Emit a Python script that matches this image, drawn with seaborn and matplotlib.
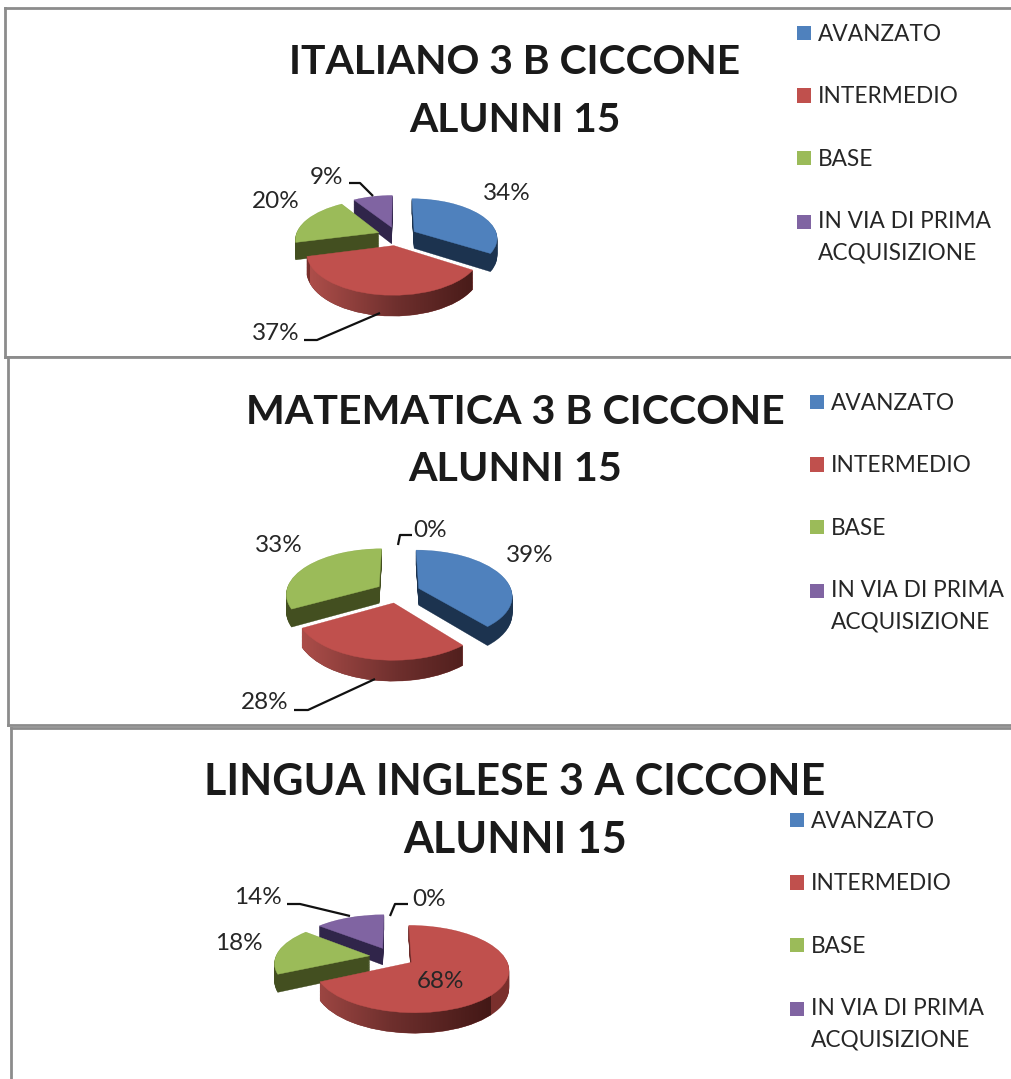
import numpy as np
import matplotlib
matplotlib.use("Agg")
import matplotlib.pyplot as plt
from matplotlib.patches import Patch
from matplotlib.path import Path
from matplotlib.transforms import Transform
from matplotlib.colors import LinearSegmentedColormap
import seaborn as sns

# ---- data ----
CATEGORIES = ["AVANZATO", "INTERMEDIO", "BASE", "IN VIA DI PRIMA\nACQUISIZIONE"]
TITLES = ["ITALIANO 3 B CICCONE\nALUNNI 15",
          "MATEMATICA 3 B CICCONE\nALUNNI 15",
          "LINGUA INGLESE 3 A CICCONE\nALUNNI 15"]
ITALIANO = [34, 37, 20, 9]
MATEMATICA = [39, 28, 33, 0]
INGLESE = [0, 68, 18, 14]

# ---- styles ----
sns.set_theme(style="white")
plt.rcParams["font.family"] = ["Lato", "DejaVu Sans"]
TOP = sns.color_palette(["#4f81bd", "#c0504d", "#9bbb59", "#8064a2"])
SIDE = ["#1c334f", "#7a2f2c", "#434f20", "#30254a"]
RED_SIDE = LinearSegmentedColormap.from_list("rs", ["#ad4e4a", "#6e2f2d", "#431816"])
TXT = "#262626"
GREY = "#8c8c8c"
W, H = 1011, 1079
EXPLODE = 0.24
RANK = [3, 4, 2, 1]  # painter's order of the slices

# ---- layout, in reference pixels ----
PANELS = [
    dict(values=ITALIANO, box=(5, 8, 1020, 357), c=(397, 236), rx=83, a=39, depth=17,
         title_xy=[(515, 62), (515, 120)], title_size=29.3, leg_xy=(797, 24),
         labels=[(507, 194), (276, 334), (276, 202), (327, 178)],
         leaders=[None, [(304, 340), (317, 340), (380, 313)], None,
                  [(349, 183), (360, 183), (373, 196)]]),
    dict(values=MATEMATICA, box=(8, 357, 1020, 725), c=(398, 592), rx=93, a=45, depth=17,
         title_xy=[(515, 413), (515, 470)], title_size=29.6, leg_xy=(810, 393),
         labels=[(530, 556), (265, 703), (279, 546), (430, 531)],
         leaders=[None, [(294, 710), (308, 710), (375, 679)], None,
                  [(398, 545), (400, 535), (412, 535)]]),
    dict(values=INGLESE, box=(11, 728, 1020, 1090), c=(392, 957), rx=94, a=41, depth=17,
         title_xy=[(515, 782), (515, 840)], title_size=31, leg_xy=(790, 811),
         labels=[(429, 899), (441, 982), (239, 944), (258, 898)],
         leaders=[[(390, 916), (395, 904), (408, 904)], None, None,
                  [(287, 904), (300, 904), (350, 916)]]),
]


class Persp(Transform):
    """Projects the flat unit pie onto a tilted plane, in pixel coordinates."""
    input_dims = output_dims = 2
    is_separable = False
    has_inverse = False

    def __init__(self, cx, cy, rx, a, z=0.0, b=0.15):
        super().__init__()
        self.cx, self.cy, self.rx, self.a, self.z, self.b = cx, cy, rx, a, z, b

    def transform_non_affine(self, xy):
        xy = np.asarray(xy, float)
        w = 1 + self.b * xy[:, 1]
        return np.column_stack([self.cx + self.rx * xy[:, 0] / w,
                                self.cy - self.a * xy[:, 1] / w + self.z / w])


def draw_panel(fig, p, title):
    x0, y0, x1, y1 = p["box"]
    ax = fig.add_axes([x0 / W, 1 - y1 / H, (x1 - x0) / W, (y1 - y0) / H])
    vals = p["values"]
    cx, cy = p["c"]
    explode = [EXPLODE] * 4
    layers = np.linspace(p["depth"], 0.0, 25)
    red_paths = []
    for z in layers:
        is_top = z == 0
        wedges, _ = ax.pie(vals, explode=explode, startangle=90, counterclock=False,
                           radius=1, colors=TOP)
        tr = Persp(cx, cy, p["rx"], p["a"], z)
        for i, w in enumerate(wedges):
            w.set_transform(tr + ax.transData)
            col = TOP[i] if is_top else SIDE[i]
            w.set_facecolor(col)
            w.set_edgecolor(col)
            w.set_linewidth(0.3)
            w.set_zorder(RANK[i] + (0.5 if is_top else 0.1))
            if vals[i] == 0:
                w.set_visible(False)
            if i == 1 and not is_top:
                red_paths.append(tr.transform_path_non_affine(w.get_path()))
    # horizontal shading of the red rim
    grad = np.linspace(0, 1, 256).reshape(1, -1)
    ext = (cx - p["rx"] * 1.05, cx + p["rx"] * 1.05, cy + 120, cy - 120)
    im = ax.imshow(grad, cmap=RED_SIDE, extent=ext, aspect="auto", zorder=RANK[1] + 0.2)
    im.set_clip_path(Path.make_compound_path(*red_paths), ax.transData)

    ax.set_aspect("auto")
    ax.set_xlim(x0, x1)
    ax.set_ylim(y1, y0)
    ax.set_xticks([])
    ax.set_yticks([])
    ax.set_frame_on(True)
    for name, s in ax.spines.items():
        s.set_visible(name in ("left", "top", "bottom"))
        s.set_color(GREY)
        s.set_linewidth(2.0)

    for line, xy in zip(title.split("\n"), p["title_xy"]):
        ax.text(*xy, line, ha="center", va="center", fontsize=p["title_size"],
                fontweight="bold", color="#1a1a1a")
    for v, xy, lead in zip(vals, p["labels"], p["leaders"]):
        ax.text(*xy, f"{v}%", ha="center", va="center", fontsize=17.5, color=TXT, zorder=9)
        if lead:
            ax.plot(*zip(*lead), color="#111111", lw=1.6, zorder=8,
                    solid_capstyle="butt", solid_joinstyle="round")
    handles = [Patch(facecolor=c, edgecolor="none") for c in TOP]
    leg = ax.legend(handles, CATEGORIES, loc="upper left", bbox_to_anchor=p["leg_xy"],
                    bbox_transform=ax.transData, frameon=False, fontsize=16.3,
                    labelcolor=TXT, handlelength=0.61, handleheight=0.61,
                    handletextpad=0.31, labelspacing=1.83, borderpad=0, borderaxespad=0)
    leg.set_zorder(10)
    leg.get_texts()[3].set_linespacing(1.63)
    # the square of the two-line entry sits beside its first line
    sq = leg.get_patches()[3]
    sq.set_y(sq.get_y() + 11.5)
    ax.set_xlim(x0, x1)
    ax.set_ylim(y1, y0)


fig = plt.figure(figsize=(W / 100, H / 100), dpi=100, facecolor="white")
for p, t in zip(PANELS, TITLES):
    draw_panel(fig, p, t)
fig.savefig("out.png", dpi=100)
